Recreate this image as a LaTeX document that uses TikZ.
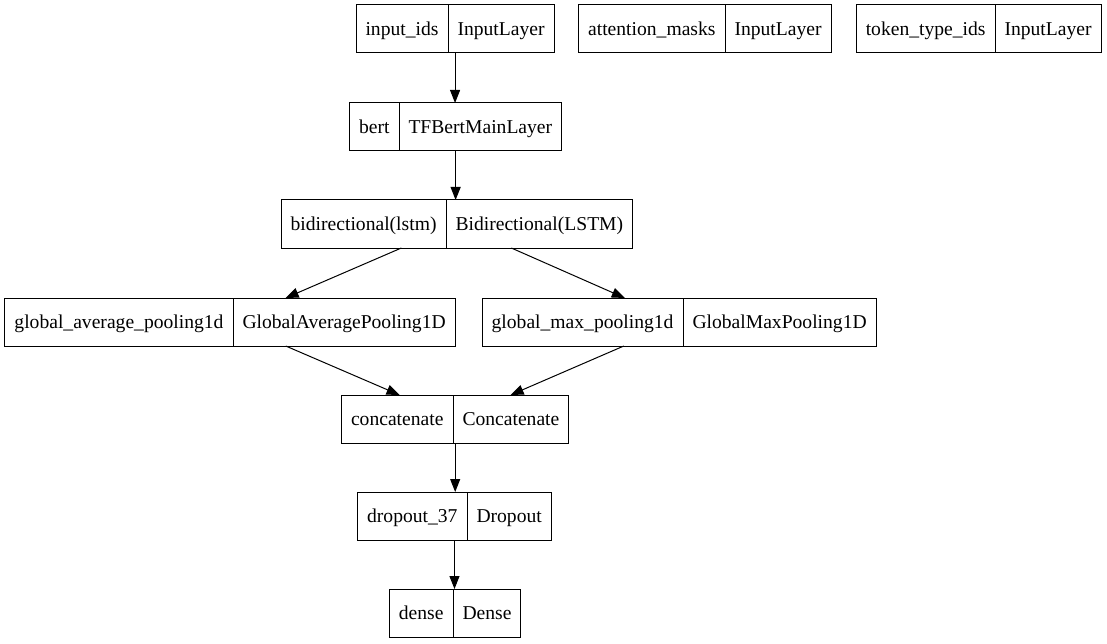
\documentclass[tikz,border=0pt]{standalone}
\usepackage{fontspec}
\setmainfont{Liberation Serif}
\usetikzlibrary{arrows.meta,positioning,fit}
\tikzset{
  % one half of a layer record
  cell/.style={rectangle, draw=black, line width=1pt, minimum height=48pt,
               inner xsep=9.5pt, inner ysep=0pt, outer sep=0pt,
               text height=15pt, text depth=2pt, font=\fontsize{19.6}{22}\selectfont},
  % whole record, used as edge end
  layer/.style={rectangle, inner sep=0pt, outer sep=0pt},
  % edge between layers
  flow/.style={-{Triangle[length=13pt,width=10pt]}, line width=1pt},
}
\begin{document}
\begin{tikzpicture}[x=1pt,y=-1pt]
  \useasboundingbox (0,0) rectangle (1107,644);

  % inputs
  \node[cell, anchor=east] (idsL) at (448,29) {input\_ids};
  \node[cell, right=0pt of idsL] (idsR) {InputLayer};
  \node[layer, fit=(idsL)(idsR)] (ids) {};

  \node[cell, anchor=east] (maskL) at (725,29) {attention\_masks};
  \node[cell, right=0pt of maskL] (maskR) {InputLayer};

  \node[cell, anchor=east] (typeL) at (995,29) {token\_type\_ids};
  \node[cell, right=0pt of typeL] (typeR) {InputLayer};

  % encoder
  \node[cell, anchor=east] (bertL) at (399,127) {bert};
  \node[cell, right=0pt of bertL] (bertR) {TFBertMainLayer};
  \node[layer, fit=(bertL)(bertR)] (bert) {};

  \node[cell, anchor=east] (bidirL) at (446,224) {bidirectional(lstm)};
  \node[cell, right=0pt of bidirL] (bidirR) {Bidirectional(LSTM)};
  \node[layer, fit=(bidirL)(bidirR)] (bidir) {};

  % pooling
  \node[cell, anchor=east] (gapL) at (233,322) {global\_average\_pooling1d};
  \node[cell, right=0pt of gapL] (gapR) {GlobalAveragePooling1D};
  \node[layer, fit=(gapL)(gapR)] (gap) {};

  \node[cell, anchor=east] (gmpL) at (683,322) {global\_max\_pooling1d};
  \node[cell, right=0pt of gmpL] (gmpR) {GlobalMaxPooling1D};
  \node[layer, fit=(gmpL)(gmpR)] (gmp) {};

  % head
  \node[cell, anchor=east] (catL) at (453,419) {concatenate};
  \node[cell, right=0pt of catL] (catR) {Concatenate};
  \node[layer, fit=(catL)(catR)] (cat) {};

  \node[cell, anchor=east] (dropL) at (467,516) {dropout\_37};
  \node[cell, right=0pt of dropL] (dropR) {Dropout};
  \node[layer, fit=(dropL)(dropR)] (drop) {};

  \node[cell, anchor=east] (denseL) at (453,613) {dense};
  \node[cell, right=0pt of denseL] (denseR) {Dense};
  \node[layer, fit=(denseL)(denseR)] (dense) {};

  % edges
  \draw[flow] (ids.south) -- (ids.south |- bert.north);
  \draw[flow] (bert.south) -- (bert.south |- bidir.north);
  \draw[flow] (bidir) -- (gap);
  \draw[flow] (bidir) -- (gmp);
  \draw[flow] (gap) -- (cat);
  \draw[flow] (gmp) -- (cat);
  \draw[flow] (cat.south) -- (cat.south |- drop.north);
  \draw[flow] (drop.south) -- (drop.south |- dense.north);
\end{tikzpicture}
\end{document}
